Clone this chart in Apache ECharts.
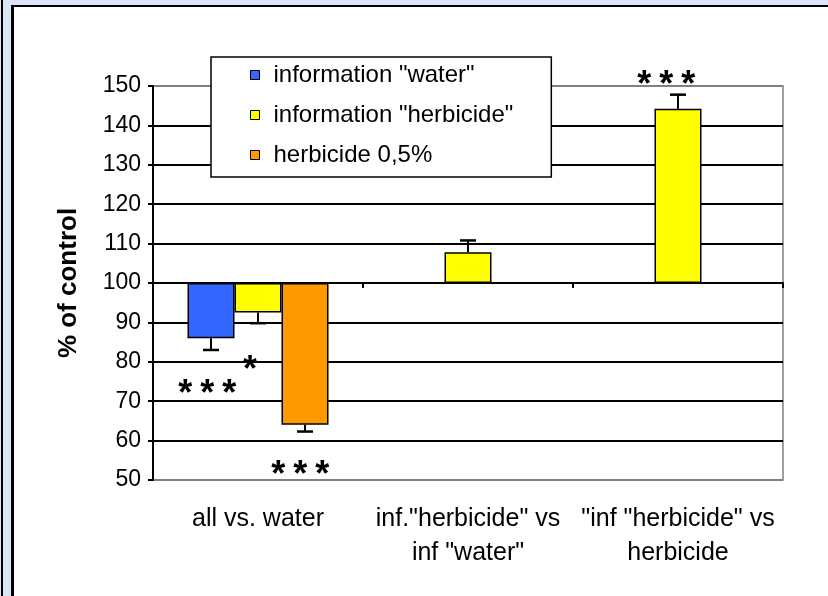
<!DOCTYPE html>
<html>
<head>
<meta charset="utf-8">
<script src="https://cdn.jsdelivr.net/npm/echarts@6/dist/echarts.min.js"></script>
<style>
  body { margin: 0; background: #dae6f6; }
  #edge { position: absolute; left: 1px; top: 0; width: 2px; height: 596px; background: #000; }
  #panel { position: absolute; left: 11px; top: 5px; width: 814px; height: 591px;
           border-left: 3px solid #000; border-top: 2px solid #000; background: #fff; }
  #main { position: absolute; left: 0; top: 0; width: 828px; height: 596px; }
</style>
</head>
<body>
<div id="edge"></div>
<div id="panel"></div>
<div id="main"></div>
<script>
// 分类
const categories = ['all vs. water', 'inf."herbicide" vs\ninf "water"', '"inf "herbicide" vs\nherbicide']
const seriesNames = ['information "water"', 'information "herbicide"', 'herbicide 0,5%']
// % of control
const infoWater = [86, null, null]
const infoHerbicide = [92.5, 107.8, 144.2]
const herbicide = [64, null, null]
// 误差
const errWater = [3, null, null]
const errHerbicide = [2.7, 3, 3.6]
const errHerbicide05 = [1.7, null, null]
// 星号标注: [类别, 柱位置, 数值]
const starText = ['***', '*', '***', '***']
const starPos = [[0, -1.08, 71.6], [0, -0.17, 77.7], [0, 0.9, 51.0], [2, -0.25, 150.0]]
const yTicks = [50, 60, 70, 80, 90, 100, 110, 120, 130, 140, 150]

const BASE = 100
const barW = 47
const starPitch = 22
const font = 'Liberation Sans, Arial, sans-serif'
const colors = ['#3366ff', '#ffff00', '#ff9900']
const delta = arr => arr.map(v => (v == null ? null : v - BASE))

const chart = echarts.init(document.getElementById('main'), null, { renderer: 'canvas' })

// 误差线数据
const errData = []
;[[infoWater, errWater], [infoHerbicide, errHerbicide], [herbicide, errHerbicide05]].forEach((pair, s) => {
  pair[0].forEach((v, i) => {
    if (v == null) return
    const dir = v < BASE ? -1 : 1
    errData.push([i, v - BASE, v - BASE + dir * pair[1][i], s - 1])
  })
})

const option = {
  animation: false,
  textStyle: { fontFamily: font },
  grid: { left: 153, top: 86, width: 630, height: 394, show: true, borderColor: '#808080', borderWidth: 1.5, backgroundColor: 'transparent' },
  legend: {
    orient: 'vertical',
    left: 211,
    top: 57,
    padding: [6, 38, 10, 39],
    itemGap: 16,
    itemWidth: 9,
    itemHeight: 9,
    icon: 'rect',
    data: seriesNames,
    backgroundColor: '#fff',
    borderColor: '#000',
    borderWidth: 1.5,
    itemStyle: { borderColor: '#000', borderWidth: 1 },
    textStyle: { fontSize: 24, color: '#000', fontFamily: font, lineHeight: 24, padding: [0, 0, 0, 9] }
  },
  xAxis: [
    {
      type: 'category',
      data: categories,
      position: 'bottom',
      axisLine: { onZero: true, lineStyle: { color: '#000', width: 2 } },
      axisTick: { show: true, length: 5, lineStyle: { color: '#000', width: 2 } },
      axisLabel: { show: false }
    },
    {
      type: 'category',
      data: categories,
      position: 'bottom',
      axisLine: { show: false, onZero: false },
      axisTick: { show: false },
      axisLabel: { interval: 0, hideOverlap: false, fontSize: 25, color: '#000', fontFamily: font, lineHeight: 34, margin: 22 }
    }
  ],
  yAxis: {
    type: 'value',
    min: yTicks[0] - BASE,
    max: yTicks[yTicks.length - 1] - BASE,
    interval: 10,
    name: '% of control',
    nameLocation: 'middle',
    nameRotate: 90,
    nameGap: 71,
    nameTextStyle: { fontSize: 26, fontWeight: 'bold', color: '#000', fontFamily: font },
    axisLine: { show: true, lineStyle: { color: '#000', width: 2 } },
    axisTick: { show: true, length: 5, lineStyle: { color: '#000', width: 2 } },
    axisLabel: { fontSize: 23, color: '#000', margin: 12, formatter: v => v + BASE },
    splitLine: {
      lineStyle: {
        width: 2,
        color: yTicks.map((t, i) => (i === 0 || i === yTicks.length - 1 ? '#808080' : '#000'))
      }
    }
  },
  series: [
    ...[infoWater, infoHerbicide, herbicide].map((arr, s) => ({
      name: seriesNames[s],
      type: 'bar',
      data: delta(arr),
      barWidth: barW,
      barGap: '0%',
      itemStyle: { color: colors[s], borderColor: '#000', borderWidth: 1.5 }
    })),
    {
      // 误差线
      type: 'custom',
      silent: true,
      z: 5,
      data: errData,
      renderItem (params, api) {
        const p0 = api.coord([api.value(0), api.value(1)])
        const p1 = api.coord([api.value(0), api.value(2)])
        const x = p0[0] + api.value(3) * barW
        return {
          type: 'group',
          children: [
            { type: 'line', shape: { x1: x, y1: p0[1], x2: x, y2: p1[1] }, style: { stroke: '#000', lineWidth: 2 } },
            { type: 'line', shape: { x1: x - 8, y1: p1[1], x2: x + 8, y2: p1[1] }, style: { stroke: '#000', lineWidth: 2.5 } }
          ]
        }
      }
    },
    {
      // 星号
      type: 'custom',
      silent: true,
      z: 6,
      clip: false,
      data: starPos.map((p, i) => [p[0], p[2] - BASE, p[1], i]),
      renderItem (params, api) {
        const p = api.coord([api.value(0), api.value(1)])
        const cx = p[0] + api.value(2) * barW
        const chars = starText[api.value(3)].split('')
        return {
          type: 'group',
          children: chars.map((c, k) => ({
            type: 'text',
            x: cx + (k - (chars.length - 1) / 2) * starPitch,
            y: p[1],
            style: {
              text: c,
              fontSize: 36,
              fontWeight: 'bold',
              fontFamily: font,
              fill: '#000',
              align: 'center',
              verticalAlign: 'middle'
            }
          }))
        }
      }
    }
  ]
}
chart.setOption(option)
</script>
</body>
</html>
